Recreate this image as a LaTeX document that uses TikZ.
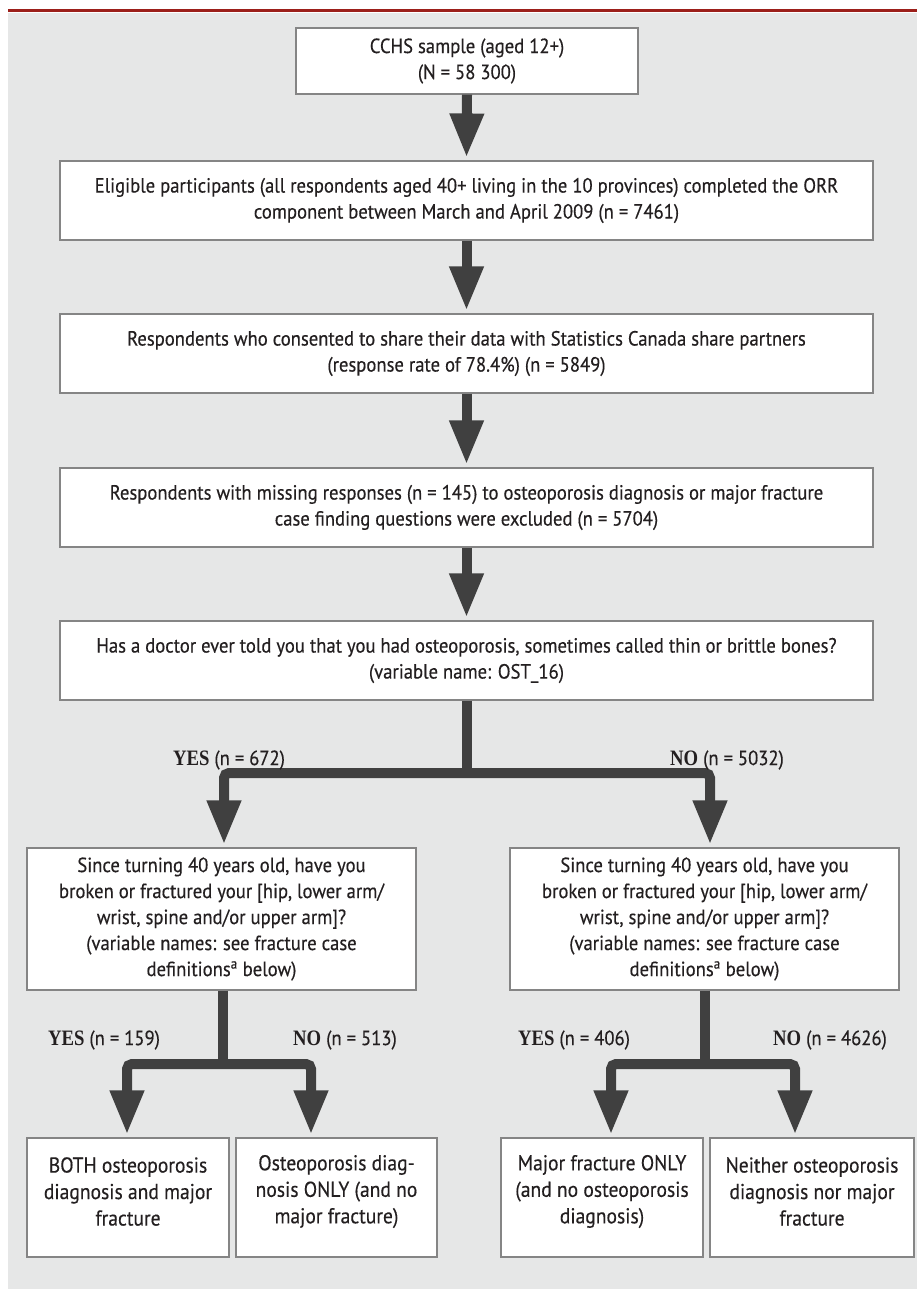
\documentclass[tikz,border=0pt]{standalone}
\usepackage{fontspec}
\setmainfont{PT Sans}[FakeStretch=0.91,FakeBold=0.35]
\newfontfamily\yesfont{Liberation Serif}[FakeStretch=0.85]
\usetikzlibrary{arrows.meta}
\definecolor{bggrey}{HTML}{E6E7E7}
\definecolor{redline}{HTML}{9C1F1A}
\definecolor{arrowgrey}{HTML}{404040}
\definecolor{boxedge}{HTML}{858585}
\definecolor{txt}{HTML}{231F20}
\tikzset{
  flowbox/.style={draw=boxedge, line width=1.1pt, fill=white, align=center,
    inner sep=0pt, text=txt, font=\fontsize{20.5}{26}\selectfont},
  endtext/.style={align=center, inner sep=0pt, text=txt,
    font=\fontsize{21.5}{26.5}\selectfont},
  fatline/.style={draw=arrowgrey, line width=10pt},
  fatarrow/.style={fatline, -{Triangle[width=32pt,length=44pt]}},
  branchlbl/.style={text=txt, font=\fontsize{20.5}{26}\selectfont, inner sep=0pt},
}
\newcommand{\yes}{{\yesfont\fontsize{22}{26}\selectfont\bfseries YES}}
\newcommand{\no}{{\yesfont\fontsize{22}{26}\selectfont\bfseries NO}}
\begin{document}
\begin{tikzpicture}[x=1pt,y=-1pt]
\useasboundingbox (0,0) rectangle (917,1289);
\fill[bggrey] (8,13) rectangle (917,1289);
\draw[redline, line width=3.8pt] (8,10.5) -- (917,10.5);

% main column
\node[flowbox, minimum width=342pt, minimum height=66pt] (b1) at (467,61)
  {CCHS sample (aged 12+)\\(N = 58 300)};
\node[flowbox, minimum width=813pt, minimum height=79pt] (b2) at (466.5,200.5)
  {Eligible participants (all respondents aged 40+ living in the 10 provinces) completed the ORR\\component between March and April 2009 (n = 7461)};
\node[flowbox, minimum width=813pt, minimum height=79pt] (b3) at (466.5,353.5)
  {Respondents who consented to share their data with Statistics Canada share partners\\(response rate of 78.4\%) (n = 5849)};
\node[flowbox, minimum width=813pt, minimum height=79pt] (b4) at (466.5,507.5)
  {Respondents with missing responses (n = 145) to osteoporosis diagnosis or major fracture\\case finding questions were excluded (n = 5704)};
\node[flowbox, minimum width=813pt, minimum height=79pt] (b5) at (466.5,660.5)
  {Has a doctor ever told you that you had osteoporosis, sometimes called thin or brittle bones?\\(variable name: OST\_16)};

% second level
\node[flowbox, minimum width=389pt, minimum height=142pt] (l2) at (221.5,919)
  {Since turning 40 years old, have you\\broken or fractured your [hip, lower arm/\\wrist, spine and/or upper arm]?\\(variable names: see fracture case\\definitions\textsuperscript{a} below)};
\node[flowbox, minimum width=389pt, minimum height=142pt] (r2) at (704.5,919)
  {Since turning 40 years old, have you\\broken or fractured your [hip, lower arm/\\wrist, spine and/or upper arm]?\\(variable names: see fracture case\\definitions\textsuperscript{a} below)};

% bottom level
\node[flowbox, minimum width=202pt, minimum height=119pt] (ba) at (128,1197.5) {};
\node[flowbox, minimum width=201pt, minimum height=119pt] (bb) at (336.5,1197.5) {};
\node[flowbox, minimum width=202pt, minimum height=119pt] (bc) at (602,1197.5) {};
\node[flowbox, minimum width=204pt, minimum height=119pt] (bd) at (812,1197.5) {};
\node[endtext] (ta) at ([yshift=6pt]ba.center) {BOTH osteoporosis\\diagnosis and major\\fracture};
\node[endtext] (tb) at ([yshift=6pt]bb.center) {Osteoporosis diag-\\nosis ONLY (and no\\major fracture)};
\node[endtext] (tc) at ([yshift=6pt]bc.center) {Major fracture ONLY\\(and no osteoporosis\\diagnosis)};
\node[endtext] (td) at ([yshift=6pt]bd.center) {Neither osteoporosis\\diagnosis nor major\\fracture};

% straight arrows
\draw[fatarrow] (b1.south) -- ([yshift=3pt]b2.north);
\draw[fatarrow] (b2.south) -- ([yshift=3pt]b3.north);
\draw[fatarrow] (b3.south) -- ([yshift=3pt]b4.north);
\draw[fatarrow] (b4.south) -- ([yshift=3pt]b5.north);

% first branch
\coordinate (j1) at (466.5,773);
\coordinate (j1l) at (224,773);
\coordinate (j1r) at (710,773);
\draw[fatline] (b5.south) -- (j1);
\draw[fatline, rounded corners=5pt, {Triangle[width=32pt,length=44pt]}-{Triangle[width=32pt,length=44pt]}]
  ([yshift=3pt]l2.north -| j1l) -- (j1l) -- (j1r) -- ([yshift=3pt]r2.north -| j1r);

% second branches
\coordinate (j2) at (223,1064);
\coordinate (j2l) at (127,1064);
\coordinate (j2r) at (311,1064);
\draw[fatline] (l2.south -| j2) -- (j2);
\draw[fatline, rounded corners=5pt, {Triangle[width=32pt,length=44pt]}-{Triangle[width=32pt,length=44pt]}]
  ([yshift=3pt]ba.north -| j2l) -- (j2l) -- (j2r) -- ([yshift=3pt]bb.north -| j2r);

\coordinate (j3) at (705,1064);
\coordinate (j3l) at (611,1064);
\coordinate (j3r) at (795,1064);
\draw[fatline] (r2.south -| j3) -- (j3);
\draw[fatline, rounded corners=5pt, {Triangle[width=32pt,length=44pt]}-{Triangle[width=32pt,length=44pt]}]
  ([yshift=3pt]bc.north -| j3l) -- (j3l) -- (j3r) -- ([yshift=3pt]bd.north -| j3r);

% labels
\node[branchlbl] (y1) at (229,760) {\yes{} (n = 672)};
\node[branchlbl] (n1) at (727,760) {\no{} (n = 5032)};
\node[branchlbl] (y2) at (104,1040) {\yes{} (n = 159)};
\node[branchlbl] (n2) at (345,1040) {\no{} (n = 513)};
\node[branchlbl] (y3) at (574,1040) {\yes{} (n = 406)};
\node[branchlbl] (n3) at (830,1040) {\no{} (n = 4626)};
\end{tikzpicture}
\end{document}
